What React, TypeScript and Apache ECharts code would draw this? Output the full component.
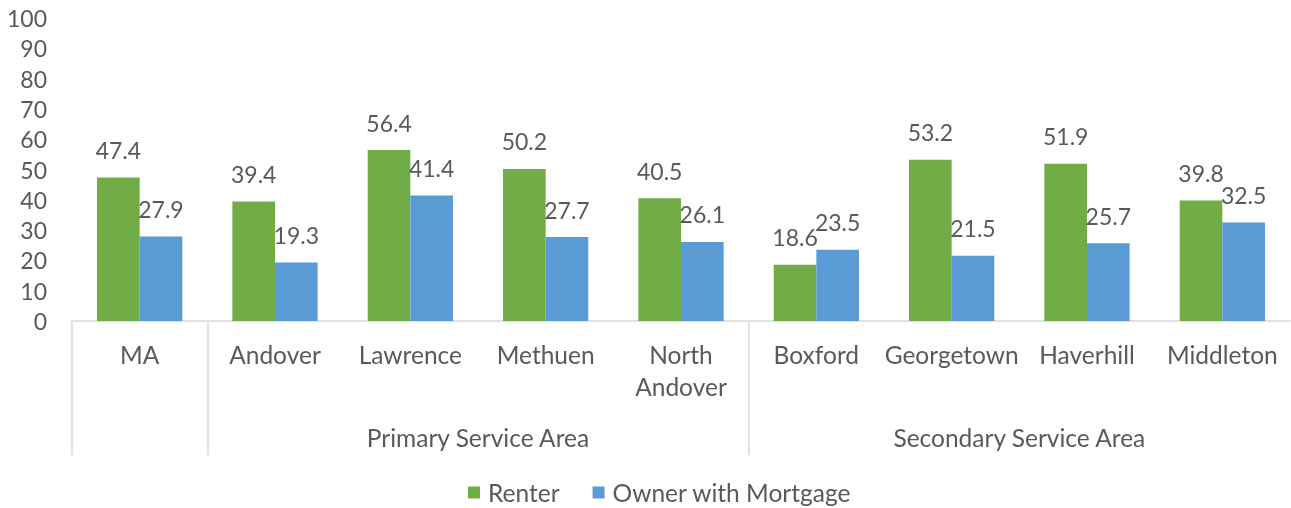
import React, { useEffect, useRef } from "react";
import * as echarts from "echarts";

const categories = ["MA", "Andover", "Lawrence", "Methuen", "North\nAndover", "Boxford", "Georgetown", "Haverhill", "Middleton"];
const renter = [47.4, 39.4, 56.4, 50.2, 40.5, 18.6, 53.2, 51.9, 39.8];
const ownerWithMortgage = [27.9, 19.3, 41.4, 27.7, 26.1, 23.5, 21.5, 25.7, 32.5];
const groupLabels = ["Primary Service Area", "Secondary Service Area"];
const groupCenters = [3, 7];
const groupBoundaries = [0, 1, 5];
const yTicks = [0, 10, 20, 30, 40, 50, 60, 70, 80, 90, 100];

const FONT = "Lato, 'Open Sans', sans-serif";
const FS = 24.5;
const FN = 23;
const TEXT = "#595959";
const LINE = "#D9D9D9";

export default function App() {
  const ref = useRef<HTMLDivElement>(null);
  useEffect(() => {
    if (!ref.current) return;
    const chart = echarts.init(ref.current, undefined, { renderer: "svg" });
    chart.setOption({
      animation: false,
      textStyle: { fontFamily: FONT, color: TEXT },
      grid: { left: 72, right: 1, top: 18, bottom: 187, containLabel: false },
      legend: {
        top: 480,
        left: 468,
        padding: 0,
        icon: "rect",
        itemWidth: 12,
        itemHeight: 12,
        itemGap: 33,
        textStyle: { fontFamily: FONT, fontSize: FS, color: TEXT, padding: [0, 0, 0, 3] },
        data: ["Renter", "Owner with Mortgage"],
      },
      xAxis: [
        {
          type: "category",
          data: categories,
          axisLine: { show: true, lineStyle: { color: LINE, width: 1.5 } },
          axisTick: { show: false },
          axisLabel: {
            interval: 0,
            margin: 17,
            fontFamily: FONT,
            fontSize: FS,
            color: TEXT,
            lineHeight: 32,
          },
        },
        {
          type: "value",
          min: 0,
          max: 9,
          position: "bottom",
          axisLine: { show: false },
          splitLine: { show: false },
          axisTick: {
            show: true,
            customValues: groupBoundaries,
            length: 134,
            lineStyle: { color: LINE, width: 1.5 },
          },
          axisLabel: {
            show: true,
            customValues: groupCenters,
            margin: 104,
            fontFamily: FONT,
            fontSize: FS,
            color: TEXT,
            formatter: (v: number) => {
              const i = groupCenters.indexOf(v);
              return i >= 0 ? groupLabels[i] : "";
            },
          },
        },
      ],
      yAxis: {
        type: "value",
        min: yTicks[0],
        max: yTicks[yTicks.length - 1],
        interval: 10,
        axisLine: { show: false },
        axisTick: { show: false },
        splitLine: { show: false },
        axisLabel: { margin: 25, fontFamily: FONT, fontSize: FN, color: TEXT },
      },
      series: [
        {
          name: "Renter",
          type: "bar",
          data: renter,
          barGap: "0%",
          barCategoryGap: "37%",
          itemStyle: { color: "#70AD47" },
          label: { show: true, position: "top", distance: 16, fontFamily: FONT, fontSize: FN, color: TEXT },
        },
        {
          name: "Owner with Mortgage",
          type: "bar",
          data: ownerWithMortgage,
          barGap: "0%",
          barCategoryGap: "37%",
          itemStyle: { color: "#5B9BD5" },
          label: { show: true, position: "top", distance: 16, fontFamily: FONT, fontSize: FN, color: TEXT },
        },
      ],
    });
    return () => chart.dispose();
  }, []);
  return <div ref={ref} style={{ position: "fixed", left: 0, top: 0, width: 1291, height: 508 }} />;
}
